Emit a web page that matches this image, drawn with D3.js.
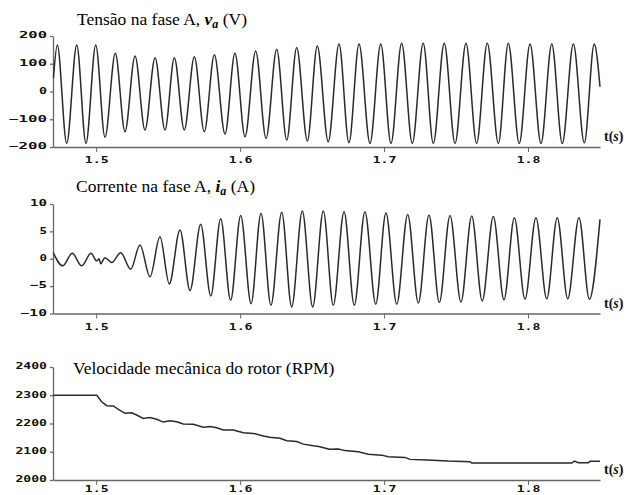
<!DOCTYPE html>
<html>
<head>
<meta charset="utf-8">
<script src="https://cdn.jsdelivr.net/npm/d3@7"></script>
<style>
  body { margin: 0; background: #fff; }
  svg { display: block; }
</style>
</head>
<body>
<div id="chart"></div>
<script>
// tensão na fase A: início, picos/vales alternados, fim
const vaTime = [1.4703, 1.4730, 1.4795, 1.4865, 1.4929, 1.4997, 1.5061, 1.5133, 1.5200, 1.5270,
  1.5339, 1.5409, 1.5478, 1.5543, 1.5612, 1.5682, 1.5751, 1.5821, 1.5895, 1.5964,
  1.6034, 1.6108, 1.6180, 1.6254, 1.6324, 1.6393, 1.6467, 1.6536, 1.6612, 1.6687,
  1.6756, 1.6826, 1.6902, 1.6977, 1.7048, 1.7122, 1.7196, 1.7272, 1.7342, 1.7418,
  1.7493, 1.7569, 1.7643, 1.7717, 1.7794, 1.7863, 1.7939, 1.8014, 1.8090, 1.8165,
  1.8238, 1.8315, 1.8391, 1.8460, 1.8500]
const vaValue = [49, 168, -187, 168, -187, 168, -165, 138, -145, 128,
  -139, 122, -139, 122, -139, 125, -145, 132, -153, 138,
  -163, 146, -169, 152, -175, 159, -178, 164, -181, 171,
  -185, 171, -187, 171, -187, 174, -187, 174, -187, 174,
  -187, 174, -187, 174, -187, 174, -187, 171, -187, 171,
  -187, 171, -185, 171, 17]

// corrente na fase A
const iaTime = [1.4702, 1.4767, 1.4834, 1.4899, 1.4964, 1.5004, 1.5020, 1.5031, 1.5061, 1.5108,
  1.5170, 1.5240, 1.5304, 1.5374, 1.5443, 1.5508, 1.5582, 1.5652, 1.5726, 1.5796,
  1.5865, 1.5934, 1.6004, 1.6076, 1.6145, 1.6214, 1.6289, 1.6358, 1.6432, 1.6504,
  1.6578, 1.6647, 1.6722, 1.6793, 1.6867, 1.6942, 1.7013, 1.7088, 1.7164, 1.7238,
  1.7312, 1.7384, 1.7458, 1.7534, 1.7609, 1.7682, 1.7759, 1.7833, 1.7905, 1.7979,
  1.8055, 1.8130, 1.8203, 1.8276, 1.8354, 1.8426, 1.8500]
const iaValue = [1.1, -1.3, 1.0, -1.3, 1.0, -0.4, 0.0, -0.9, 0.2, -0.7,
  1.1, -1.9, 2.5, -3.3, 4.0, -4.6, 5.25, -5.8, 6.3, -6.8,
  7.3, -7.6, 7.9, -8.2, 8.3, -8.5, 8.5, -8.8, 8.7, -8.8,
  8.7, -8.5, 8.6, -8.5, 8.6, -8.3, 8.4, -8.3, 8.1, -8.1,
  8.0, -8.0, 7.9, -7.9, 7.8, -7.7, 7.7, -7.5, 7.5, -7.4,
  7.5, -7.3, 7.5, -7.3, 7.5, -7.4, 7.2]

// velocidade mecânica do rotor (RPM)
const speedTime = [1.4700, 1.5004, 1.5038, 1.5073, 1.5119, 1.5154, 1.5200, 1.5247, 1.5281, 1.5327,
  1.5374, 1.5420, 1.5466, 1.5513, 1.5559, 1.5605, 1.5675, 1.5744, 1.5791, 1.5837,
  1.5883, 1.5953, 1.6022, 1.6091, 1.6161, 1.6207, 1.6277, 1.6324, 1.6393, 1.6439,
  1.6508, 1.6555, 1.6619, 1.6682, 1.6729, 1.6821, 1.6890, 1.6983, 1.7029, 1.7145,
  1.7180, 1.7296, 1.7446, 1.7597, 1.7609, 1.8303, 1.8322, 1.8349, 1.8419, 1.8431,
  1.8500]
const speedValue = [2300, 2300, 2277, 2263, 2262, 2250, 2236, 2238, 2230, 2218,
  2221, 2215, 2205, 2210, 2206, 2198, 2197, 2187, 2189, 2185,
  2177, 2177, 2167, 2165, 2156, 2151, 2148, 2139, 2136, 2127,
  2121, 2118, 2109, 2110, 2104, 2100, 2091, 2088, 2082, 2080,
  2073, 2071, 2067, 2065, 2060, 2060, 2067, 2061, 2061, 2066,
  2066]

const timeTicks = [1.5, 1.6, 1.7, 1.8]
const vaTicks = [200, 100, 0, -100, -200]
const iaTicks = [10, 5, 0, -5, -10]
const speedTicks = [2400, 2300, 2200, 2100, 2000]

const width = 634, height = 495
const axisColor = '#666', lineColor = '#2a2a2a'

const svg = d3.select('#chart').append('svg')
  .attr('width', width)
  .attr('height', height)

const x = d3.scaleLinear().domain([1.47, 1.85]).range([53, 600])

const panels = [
  {time: vaTime, values: vaValue, ticks: vaTicks, domain: [-200, 200], range: [147, 36], pad: 5,
    curve: d3.curveMonotoneX, charW: 10, title: {x: 77, y: 25, parts: ['Tensão na fase A, ', 'v', 'a', ' (V)']}},
  {time: iaTime, values: iaValue, ticks: iaTicks, domain: [-10, 10], range: [313.5, 204], pad: 5,
    curve: d3.curveMonotoneX, charW: 9.5, title: {x: 76, y: 191.5, parts: ['Corrente na fase A, ', 'i', 'a', ' (A)']}},
  {time: speedTime, values: speedValue, ticks: speedTicks, domain: [2000, 2400], range: [480, 367], pad: 1,
    curve: d3.curveLinear, charW: 8.4, title: {x: 73, y: 374, parts: ['Velocidade mecânica do rotor (RPM)']}}
]

const monoLabels = function(sel, charW, size) {
  sel.attr('font-family', '"DejaVu Sans Mono", monospace')
    .attr('font-weight', 'bold')
    .attr('font-size', size || 9)
    .attr('fill', '#111')
    .attr('lengthAdjust', 'spacingAndGlyphs')
    .attr('textLength', function() { return this.textContent.length * charW - 2 })
}

panels.forEach(p => {
  const y = d3.scaleLinear().domain(p.domain).range(p.range)
  const g = svg.append('g')
  const bottom = p.range[0]

  // eixo vertical
  const ya = g.append('g')
    .attr('transform', 'translate(53,0)')
    .call(d3.axisLeft(y).tickValues(p.ticks).tickSize(3).tickSizeOuter(0).tickPadding(3).tickFormat(d3.format('d')))
  ya.select('.domain').attr('stroke', axisColor).attr('stroke-width', 1.3)
  ya.selectAll('.tick line').attr('stroke', axisColor).attr('stroke-width', 1.3)
  ya.selectAll('.tick text').attr('dy', '0.2em').call(monoLabels, p.charW)

  // eixo do tempo
  const xa = g.append('g')
    .attr('transform', `translate(0,${bottom})`)
    .call(d3.axisBottom(x).tickValues(timeTicks).tickSize(5).tickSizeOuter(0).tickPadding(p.pad).tickFormat(d3.format('.1f')))
  xa.select('.domain').attr('stroke', axisColor).attr('stroke-width', 1.3)
  xa.selectAll('.tick line').attr('stroke', axisColor).attr('stroke-width', 1)
  xa.selectAll('.tick text').call(monoLabels, 8.6, 8.5)

  // sinal
  const pts = p.time.map((t, i) => [t, p.values[i]])
  g.append('path')
    .datum(pts)
    .attr('fill', 'none')
    .attr('stroke', lineColor)
    .attr('stroke-width', 1.5)
    .attr('d', d3.line().x(d => x(d[0])).y(d => y(d[1])).curve(p.curve))

  // t(s)
  const tl = g.append('text')
    .attr('x', 604)
    .attr('y', bottom - 6)
    .attr('font-family', '"Liberation Serif", "Times New Roman", serif')
    .attr('font-weight', 'bold')
    .attr('font-size', 14)
    .attr('fill', '#111')
  tl.append('tspan').text('t(')
  tl.append('tspan').attr('font-style', 'italic').text('s')
  tl.append('tspan').text(')')

  // título
  const tt = g.append('text')
    .attr('x', p.title.x)
    .attr('y', p.title.y)
    .attr('font-family', '"Liberation Serif", "Times New Roman", serif')
    .attr('font-size', 17.5)
    .attr('fill', '#000')
  const parts = p.title.parts
  tt.append('tspan').text(parts[0])
  if (parts.length > 1) {
    tt.append('tspan').attr('font-weight', 'bold').attr('font-style', 'italic').text(parts[1])
    tt.append('tspan').attr('font-weight', 'bold').attr('font-style', 'italic')
      .attr('font-size', 12).attr('dy', 3).text(parts[2])
    tt.append('tspan').attr('dy', -3).text(parts[3])
  }
})
</script>
</body>
</html>
